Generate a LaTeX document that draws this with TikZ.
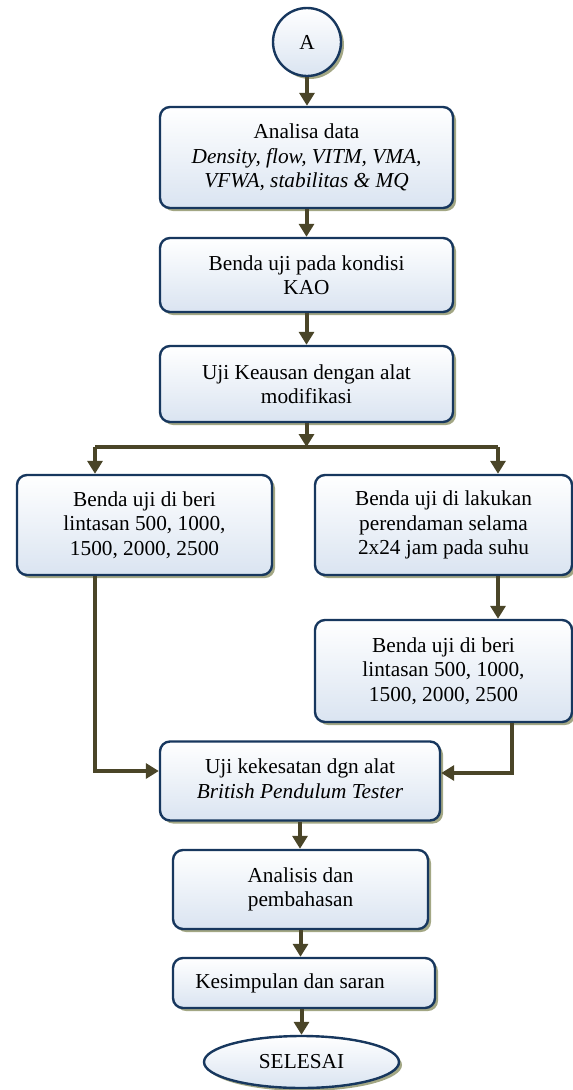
\documentclass[tikz,border=0pt]{standalone}
\usepackage{fontspec}
\setmainfont{Liberation Serif}
\usetikzlibrary{arrows.meta,shadows,shapes.geometric,calc}
\definecolor{navy}{HTML}{17375E}
\definecolor{olive}{HTML}{4A4528}
\definecolor{shad}{HTML}{A3A784}
\definecolor{lblue}{HTML}{DAE4F1}
\tikzset{
  base/.style={draw=navy, line width=2.4pt, top color=white, bottom color=lblue,
    drop shadow={shadow xshift=3pt, shadow yshift=-3pt, fill=shad, opacity=1},
    font=\fontsize{21.3}{24.3}\selectfont, align=center, inner sep=0pt},
  box/.style={base, rounded corners=10pt},
  arr/.style={draw=olive, line width=4pt, -{Triangle[width=15pt,length=13pt]}},
  ln/.style={draw=olive, line width=4pt}
}
\begin{document}
\begin{tikzpicture}[x=1pt,y=-1pt]
\useasboundingbox (0,0) rectangle (573,1090);
\node[base, circle, minimum size=68pt] (a) at (307,42) {A};
\node[box, minimum width=293pt, minimum height=101pt] (b1) at (306.5,157.5)
  {Analisa data\\ \textit{Density, flow, VITM, VMA,}\\ \textit{VFWA, stabilitas \& MQ}};
\node[box, minimum width=293pt, minimum height=74pt] (b2) at (306.5,275)
  {Benda uji pada kondisi\\ KAO};
\node[box, minimum width=293pt, minimum height=76pt] (b3) at (306.5,384)
  {Uji Keausan dengan alat\\ modifikasi};
\node[box, minimum width=255pt, minimum height=100pt] (lb) at (144.5,525)
  {Benda uji di beri\\ lintasan 500, 1000,\\ 1500, 2000, 2500};
\node[box, minimum width=257pt, minimum height=100pt] (rb1) at (443.5,525)
  {Benda uji di lakukan\\ perendaman selama\\ 2x24 jam pada suhu};
\node[box, minimum width=257pt, minimum height=102pt] (rb2) at (443.5,671)
  {Benda uji di beri\\ lintasan 500, 1000,\\ 1500, 2000, 2500};
\node[box, minimum width=280pt, minimum height=79pt] (bpt) at (300,781)
  {\raisebox{6pt}{\begin{tabular}{@{}c@{}}Uji kekesatan dgn alat\\ \textit{British Pendulum Tester}\end{tabular}}};
\node[box, minimum width=255pt, minimum height=79pt] (an) at (300.5,889.5)
  {Analisis dan\\ pembahasan};
\node[box, minimum width=262pt, minimum height=50pt] (ks) at (304,983)
  {Kesimpulan dan saran\hspace{28pt}};
\node[base, ellipse, minimum width=195pt, minimum height=52pt] (end) at (301.5,1062)
  {SELESAI};
\coordinate (sp) at (306.5,447);
\coordinate (cl) at (95,447);
\coordinate (cr) at (498,447);
\draw[arr] (a) -- (a |- b1.north);
\draw[arr] (b1.south -| b1) -- (b2.north);
\draw[arr] (b2) -- (b2.north |- b3.north) ;
\draw[arr] (b3.south) -- (sp);
\draw[ln] (cl) -- (cr);
\draw[arr] (cl) -- (cl |- lb.north);
\draw[arr] (cr) -- (cr |- rb1.north);
\draw[arr] (cr |- rb1.south) -- (cr |- rb2.north);
\draw[arr] (cl |- lb.south) |- ([yshift=10pt]bpt.west);
\draw[arr] ([xshift=68.5pt]rb2.south) |- ([yshift=8pt]bpt.east);
\draw[arr] (bpt.south) -- (bpt.south |- an.north);
\draw[arr] (an.south) -- (an.south |- ks.north);
\draw[arr] (ks.south -| end) -- (end.north);
\end{tikzpicture}
\end{document}
